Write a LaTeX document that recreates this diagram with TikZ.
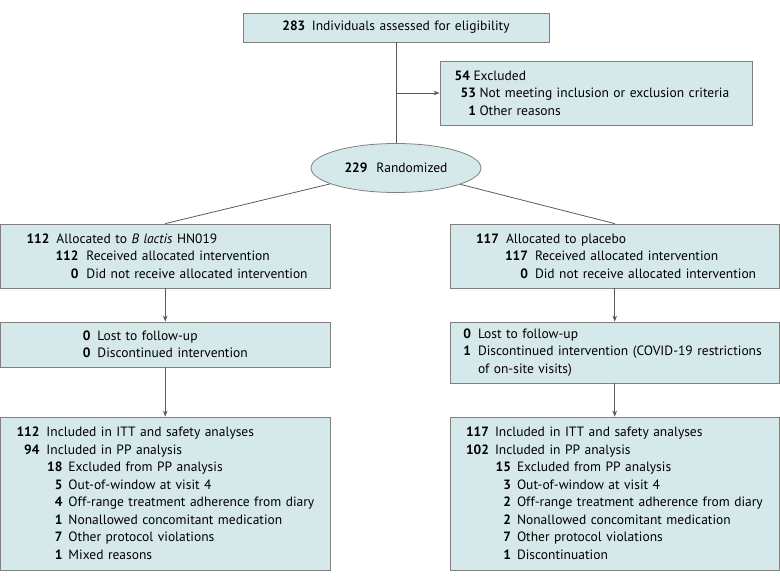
\documentclass[tikz,border=0pt]{standalone}
\usepackage{fontspec}
\setmainfont{PT Sans}
\usetikzlibrary{shapes.geometric,arrows.meta}
\definecolor{boxfill}{RGB}{214,233,234}
\definecolor{boxline}{RGB}{128,128,128}
\definecolor{linkgray}{RGB}{90,90,90}
% number right-aligned at #1, text starting at #2
\newcommand{\entry}[4]{\makebox[#1pt][r]{\textbf{#3}}\hspace{\dimexpr#2pt-#1pt\relax}#4}

\begin{document}
\begin{tikzpicture}[x=1pt,y=-1pt,
		font=\fontsize{13.5}{17.5}\selectfont,
		box/.style={draw=boxline,fill=boxfill,line width=0.8pt,rectangle,inner sep=0pt,align=left,text width=329.5pt},
		link/.style={draw=linkgray,line width=0.8pt},
		arr/.style={link,-{Stealth[length=6pt,width=4.5pt]}}]
			\useasboundingbox (0,0) rectangle (780,584);

			% Nodes
			\node[box,text width=306pt,minimum height=29pt,align=center] (assess) at (396,27.5) {\textbf{283}\hspace{6.5pt}Individuals assessed for eligibility};
			\node[box,text width=312pt,minimum height=64pt] (excl) at (596,93) {
				\entry{30}{33.5}{54}{Excluded}\\
				\entry{36}{39.5}{53}{Not meeting inclusion or exclusion criteria}\\
				\entry{36}{39.5}{1}{Other reasons}};
			\node[draw=boxline,fill=boxfill,line width=0.8pt,ellipse,minimum width=170pt,minimum height=49pt,inner sep=0pt] (rand) at (396,168) {\textbf{229}\hspace{9pt}Randomized};

			\node[box,minimum height=64pt] (alloc1) at (165.25,256) {
				\entry{49}{56}{112}{Allocated to \textit{B lactis} HN019}\\
				\entry{78}{86}{112}{Received allocated intervention}\\
				\entry{78}{86}{0}{Did not receive allocated intervention}};
			\node[box,minimum height=64pt] (alloc2) at (614.75,256) {
				\entry{49}{56}{117}{Allocated to placebo}\\
				\entry{78}{85}{117}{Received allocated intervention}\\
				\entry{78}{85}{0}{Did not receive allocated intervention}};

			\node[box,minimum height=45pt] (lost1) at (165.25,344.5) {
				\entry{90}{97}{0}{Lost to follow-up}\\
				\entry{90}{97}{0}{Discontinued intervention}};
			\node[box,minimum height=61pt] (lost2) at (614.75,352.5) {
				\entry{21}{28}{0}{Lost to follow-up}\\
				\entry{21}{28}{1}{Discontinued intervention (COVID-19 restrictions}\\
				\hspace*{28pt}of on-site visits)};

			\node[box,minimum height=153pt] (final1) at (165.25,493.5) {
				\entry{39}{46}{112}{Included in ITT and safety analyses}\\
				\entry{39}{46}{94}{Included in PP analysis}\\
				\entry{62}{68}{18}{Excluded from PP analysis}\\
				\entry{62}{68}{5}{Out-of-window at visit 4}\\
				\entry{62}{68}{4}{Off-range treatment adherence from diary}\\
				\entry{62}{68}{1}{Nonallowed concomitant medication}\\
				\entry{62}{68}{7}{Other protocol violations}\\
				\entry{62}{68}{1}{Mixed reasons}};
			\node[box,minimum height=153pt] (final2) at (614.75,493.5) {
				\entry{39}{45}{117}{Included in ITT and safety analyses}\\
				\entry{39}{45}{102}{Included in PP analysis}\\
				\entry{61}{67}{15}{Excluded from PP analysis}\\
				\entry{61}{67}{3}{Out-of-window at visit 4}\\
				\entry{61}{67}{2}{Off-range treatment adherence from diary}\\
				\entry{61}{67}{2}{Nonallowed concomitant medication}\\
				\entry{61}{67}{7}{Other protocol violations}\\
				\entry{61}{67}{1}{Discontinuation}};

			% Links
			\coordinate (split) at (396,93);
			\draw[link] (assess) -- (rand);
			\draw[arr] (split) -- (excl.west);

			\draw[link] (rand) -- (alloc1.north);
			\draw[link] (rand) -- (alloc2.north);

			\draw[arr] (alloc1) -- (lost1);
			\draw[arr] (lost1) -- (final1);
			\draw[arr] (alloc2) -- (lost2);
			\draw[arr] (lost2) -- (final2);

		\end{tikzpicture}
\end{document}
